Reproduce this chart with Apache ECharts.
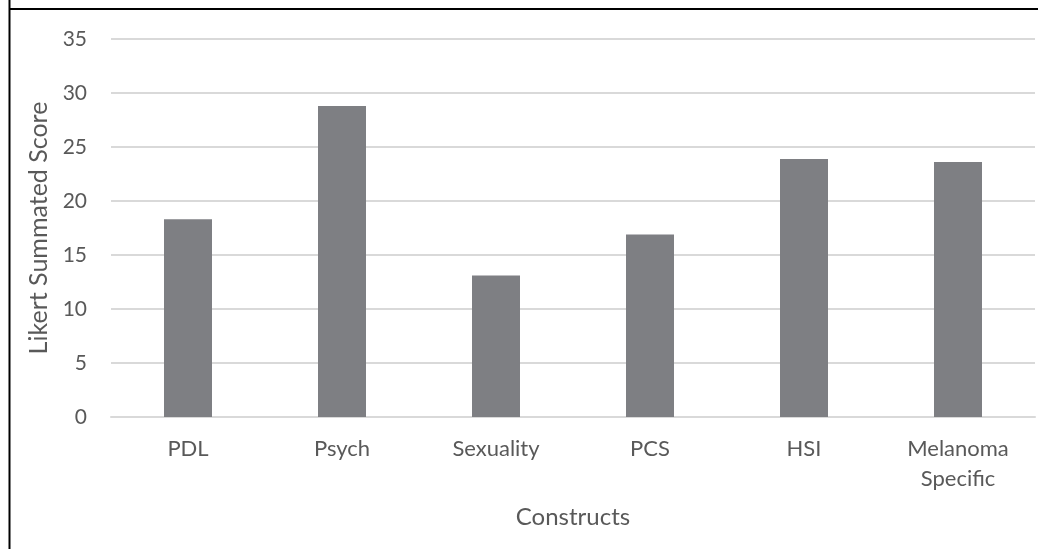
<!DOCTYPE html>
<html>
<head>
<meta charset="utf-8">
<script src="https://cdn.jsdelivr.net/npm/echarts@6/dist/echarts.min.js"></script>
<style>
html,body{margin:0;padding:0;background:#fff;}
#c{width:1038px;height:549px;}
</style>
</head>
<body>
<div id="c"></div>
<script>
var categories = ['PDL', 'Psych', 'Sexuality', 'PCS', 'HSI', 'Melanoma\nSpecific'];
var scores = [18.3, 28.8, 13.1, 16.9, 23.9, 23.6];
var yTicks = { min: 0, max: 35, interval: 5 };
var yTitle = 'Likert Summated Score';
var xTitle = 'Constructs';

var chart = echarts.init(document.getElementById('c'), null, { renderer: 'canvas' });
var font = 'Lato, "Open Sans", sans-serif';
chart.setOption({
  animation: false,
  backgroundColor: '#ffffff',
  grid: { left: 111, right: 3, top: 39, bottom: 132, containLabel: false },
  graphic: [
    { type: 'line', shape: { x1: 9.5, y1: 0, x2: 9.5, y2: 549 }, style: { stroke: '#000', lineWidth: 2 } },
    { type: 'line', shape: { x1: 9.5, y1: 9, x2: 1038, y2: 9 }, style: { stroke: '#000', lineWidth: 2 } }
  ],
  xAxis: {
    type: 'category',
    data: categories,
    name: xTitle,
    nameLocation: 'middle',
    nameGap: 88,
    nameTextStyle: { fontFamily: font, fontSize: 24, color: '#595959' },
    axisLine: { show: true, lineStyle: { color: '#d9d9d9', width: 2 } },
    axisTick: { show: false },
    axisLabel: { fontFamily: font, fontSize: 22, color: '#595959', margin: 17, lineHeight: 30, interval: 0 }
  },
  yAxis: {
    type: 'value',
    min: yTicks.min,
    max: yTicks.max,
    interval: yTicks.interval,
    name: yTitle,
    nameLocation: 'middle',
    nameGap: 59,
    nameTextStyle: { fontFamily: font, fontSize: 25, color: '#595959' },
    axisLine: { show: false },
    axisTick: { show: false },
    axisLabel: { fontFamily: font, fontSize: 21, color: '#595959', margin: 24 },
    splitLine: { lineStyle: { color: '#d9d9d9', width: 2 } }
  },
  series: [{
    type: 'bar',
    data: scores,
    barWidth: 48,
    itemStyle: { color: '#7e7f83' }
  }]
});
</script>
</body>
</html>
